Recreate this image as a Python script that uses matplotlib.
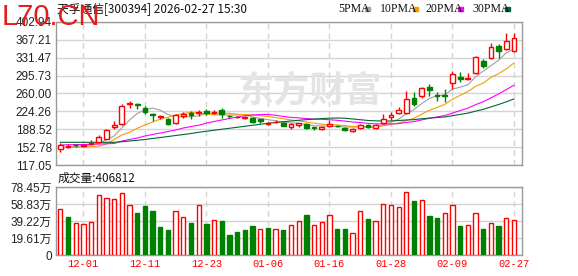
import matplotlib
matplotlib.use("Agg")
import numpy as np
import matplotlib.pyplot as plt

# trading days shown (MM-DD)
dates = ["11-26", "11-27", "11-28",
         "12-01", "12-02", "12-03", "12-04", "12-05",
         "12-08", "12-09", "12-10", "12-11", "12-12",
         "12-15", "12-16", "12-17", "12-18", "12-19",
         "12-22", "12-23", "12-24", "12-25", "12-26",
         "12-29", "12-30", "12-31",
         "01-05", "01-06", "01-07", "01-08", "01-09",
         "01-12", "01-13", "01-14", "01-15", "01-16",
         "01-19", "01-20", "01-21", "01-22", "01-23",
         "01-26", "01-27", "01-28", "01-29", "01-30",
         "02-02", "02-03", "02-04", "02-05", "02-06",
         "02-09", "02-10", "02-11", "02-12", "02-13",
         "02-24", "02-25", "02-26", "02-27"]
tick_dates = ["12-01", "12-11", "12-23", "01-06", "01-16", "01-28", "02-09", "02-27"]

opens = [148.5, 153, 158, 156, 158.5, 163.5, 170, 192.5, 199, 239,
         239, 231.5, 219, 213.5, 208.5, 201.5, 215.5, 221.5, 220.5, 224.5,
         220.5, 226.5, 216, 212.5, 211.5, 212, 208.5, 199.5, 203, 201.5,
         192.5, 198, 199.5, 193, 190, 195.5, 196, 192, 185, 191.5,
         198, 192, 200.5, 214, 220.5, 222, 250, 254, 272, 256,
         256, 280.5, 293.5, 288, 300.5, 325, 330.5, 355, 348.5, 344]
highs = [160.5, 160, 160, 158, 167, 177, 189, 205, 238.5, 245,
         241.5, 234.5, 221.5, 218, 210.5, 220, 224, 224.5, 228, 229,
         228, 231, 218, 216, 216, 214, 210, 204, 206.5, 203,
         201, 202, 201, 194, 195, 207, 198, 193, 190.5, 199,
         199.5, 198.5, 220, 224, 234, 264, 262, 272, 278, 263,
         268, 305, 302, 300, 335, 329, 360, 358, 381.5, 380]
lows = [143, 151, 154, 154, 157, 162, 169, 189.5, 197.5, 232,
        229, 220, 205.5, 210, 198, 199.5, 212, 210, 216, 217,
        219, 212, 212, 211, 210, 202, 202, 197.5, 201, 194.5,
        190, 193, 189, 188, 188, 194, 193, 186, 184, 189,
        192, 190, 198.5, 207, 219, 220, 235, 251.5, 254, 245,
        244, 268, 283.5, 287, 298, 311, 329, 331.5, 347, 342]
closes = [157, 156, 156.5, 157.5, 161.5, 172.5, 187, 198, 236, 241.5,
          237.5, 223, 216.5, 214, 199, 218, 218.5, 218, 223.5, 221.5,
          223, 219, 215, 214, 213.5, 204, 205, 201.5, 204, 196,
          199.5, 201, 190.5, 191, 193.5, 199, 195, 187.5, 189, 196.5,
          194, 197, 210, 216.5, 226.5, 248, 239, 270, 267, 254,
          255, 298, 289.5, 290.5, 332, 314, 352, 344, 365, 370]
# volume in 万 (10k shares)
volume = [52.8, 43.6, 36.4, 35.2, 37.5, 69.7, 66.2, 65.1, 71.9, 58.2,
          48.2, 56.3, 50.5, 32.1, 28.7, 51.3, 44.4, 36.7, 58.2, 35.6,
          40.9, 39.0, 23.0, 26.4, 28.7, 33.3, 29.5, 31.4, 29.9, 28.7,
          34.1, 39.8, 45.9, 34.1, 37.5, 46.7, 29.9, 29.9, 24.9, 51.3,
          41.3, 39.8, 59.3, 58.2, 55.9, 73.1, 62.0, 63.1, 44.8, 42.5,
          49.0, 58.2, 33.3, 34.1, 49.0, 29.9, 36.4, 33.3, 43.2, 40.6812]

ma5 = [152, 153, 154, 155.5, 157.7, 160.8, 167, 175.3, 191, 207,
       220, 227.2, 230.9, 226.5, 218, 214.1, 213.2, 213.5, 215.4, 219.9,
       220.9, 221, 220.4, 218.5, 216.9, 213.1, 210.3, 207.6, 205.6, 202.1,
       201.2, 200.4, 198.2, 195.6, 195.1, 195, 193.8, 193.2, 192.8, 193.4,
       192.4, 192.8, 197.3, 202.8, 208.8, 219.6, 228, 240, 250.1, 255.6,
       257, 268.8, 272.7, 277.4, 293, 304.8, 315.6, 326.5, 341.4, 349]
ma10 = [152, 152, 152.5, 153, 153.5, 155, 159, 168, 177, 182.4,
        190.4, 197.1, 203.1, 208.8, 212.5, 217.1, 220.2, 222.2, 221, 219,
        217.5, 217.1, 217, 217, 218.4, 217, 215.7, 214, 212.1, 209.5,
        207.2, 205.4, 202.9, 200.6, 198.6, 198.1, 197.1, 195.7, 194.2, 194.3,
        193.7, 193.3, 195.3, 197.8, 201.1, 206, 210.4, 218.7, 226.5, 232.2,
        238.3, 248.4, 256.4, 263.8, 274.3, 280.9, 292.2, 299.6, 309.4, 321]
ma20 = [157, 157.5, 158, 158, 158.5, 159, 159.5, 160, 165, 168,
        171, 175, 178, 181, 184, 187, 191, 194, 196.5, 200.7,
        204, 207.1, 210, 212.9, 215.5, 217, 217.9, 218.1, 216.5, 214.2,
        212.3, 211.2, 209.9, 208.8, 208.5, 207.6, 206.4, 204.9, 203.1, 201.9,
        200.4, 199.3, 199.1, 199.2, 199.9, 202.1, 203.8, 207.2, 210.3, 213.2,
        216, 220.9, 225.8, 230.8, 237.7, 243.5, 251.3, 259.1, 267.9, 276.6]
ma30 = [162.4, 162.4, 162.4, 162.4, 162.4, 162.4, 162.4, 162.4, 163.5, 165,
        166.5, 168, 170, 172, 174, 176, 178, 180, 182.5, 184.5,
        186.5, 188.5, 190.5, 192.5, 194.5, 196.5, 198.5, 200.5, 202, 203.6,
        205, 206.5, 207.7, 208.8, 209.8, 210.7, 211, 210.6, 209.1, 207.6,
        206.1, 205.3, 205, 205.1, 206, 207, 207.7, 209.5, 210.9, 212,
        213.1, 215.7, 218.2, 220.7, 224.7, 228.3, 233.2, 238, 243.4, 249.2]

price_ticks = [117.05, 152.78, 188.52, 224.26, 260.00, 295.73, 331.47, 367.21, 402.94]
vol_ticks = [0, 19.61, 39.22, 58.83, 78.45]

RED = "#ff0000"
GREEN = "#008000"
GRID = "#d4d4d4"
FRAME = "#9a9a9a"
ma_list = [("5PMA", ma5, "#a0a0a0"), ("10PMA", ma10, "#f0a000"),
           ("20PMA", ma20, "#ff00ff"), ("30PMA", ma30, "#006633")]

W, H = 578, 276
fig = plt.figure(figsize=(W / 100, H / 100), dpi=100)


def fx(px):
    return px / W


def fy(py):
    return 1 - py / H


ax = fig.add_axes([fx(56), fy(165), fx(466), 143 / H])
axv = fig.add_axes([fx(56), fy(255), fx(466), 68 / H])

o = np.array(opens)
c = np.array(closes)
hi = np.array(highs)
lo = np.array(lows)
x = np.arange(len(c))
up = c >= o
cols = np.where(up, RED, GREEN)

# price panel
for name, vals, col in ma_list:
    ax.plot(x, vals, color=col, lw=0.8, zorder=2)
ax.vlines(x, lo, hi, colors=cols, lw=1, zorder=3)
body_h = np.maximum(np.abs(c - o), 0.8)
ax.bar(x, body_h, bottom=np.minimum(o, c), width=0.62,
       facecolor=np.where(up, "white", GREEN), edgecolor=cols, lw=1, zorder=4)

tick_pos = [dates.index(d) for d in tick_dates]
for a in (ax, axv):
    a.set_xlim(-0.56, 60.04)
    a.set_xticks(tick_pos)
    a.grid(axis="y", color=GRID, lw=1, zorder=0)
    for p in tick_pos:
        a.axvline(p, color=GRID, lw=1, ls=(0, (4, 3)), zorder=0)
    for s in a.spines.values():
        s.set_color(FRAME)
        s.set_linewidth(1)
    a.tick_params(length=0, pad=3)
    a.set_axisbelow(True)

ax.set_ylim(price_ticks[0], price_ticks[-1])
ax.set_yticks(price_ticks)
ax.set_yticklabels([f"{v:.2f}" for v in price_ticks], fontsize=8.5,
                   family="Liberation Sans", color="#222222")
ax.set_xticklabels([])

ax.text(0.545, 0.52, "东方财富", transform=ax.transAxes, ha="center", va="center",
        fontsize=26, fontweight="bold", color="#e4e4e4",
        family="Noto Sans CJK SC", zorder=1)

# volume panel
prev = np.concatenate([[o[0]], c[:-1]])
vup = c >= prev
axv.bar(x, volume, width=0.56, facecolor=np.where(vup, "white", GREEN),
        edgecolor=np.where(vup, RED, GREEN), lw=1, zorder=3)
axv.set_ylim(vol_ticks[0], vol_ticks[-1])
axv.set_yticks(vol_ticks)
axv.set_yticklabels(["0"] + [f"{v:.2f}万" for v in vol_ticks[1:]], fontsize=8.5,
                    family=["Liberation Sans", "Noto Sans CJK SC"], color="#222222")
axv.set_xticklabels(tick_dates, fontsize=7.5, family="Liberation Mono", color=RED)

# header texts
fig.text(fx(57), fy(9), "天孚通信[300394] 2026-02-27 15:30", fontsize=8.5,
         family=["Noto Sans CJK SC", "DejaVu Sans"], va="center", ha="left", color="#111111")
legend_x = [338, 380, 425, 472]
for lx, (name, vals, col) in zip(legend_x, ma_list):
    fig.text(fx(lx), fy(9), name, fontsize=8.5, family="Liberation Serif",
             va="center", ha="left", color="#111111")
    sq = lx + 27 + 6 * (len(name) - 4)
    fig.patches.append(plt.Rectangle((fx(sq), fy(11)), fx(5), 4 / H,
                                     transform=fig.transFigure, color=col))
fig.text(fx(58), fy(178), f"成交量:{round(volume[-1] * 10000)}", fontsize=8.5,
         family=["Noto Sans CJK SC", "DejaVu Sans"], va="center", ha="left", color="#111111")

# site watermark
fig.text(fx(2), fy(17), "L70.CN", fontsize=21, family="Liberation Sans",
         color="#e51c1c", va="center", ha="left", zorder=10)

fig.savefig("out.png", dpi=100)
